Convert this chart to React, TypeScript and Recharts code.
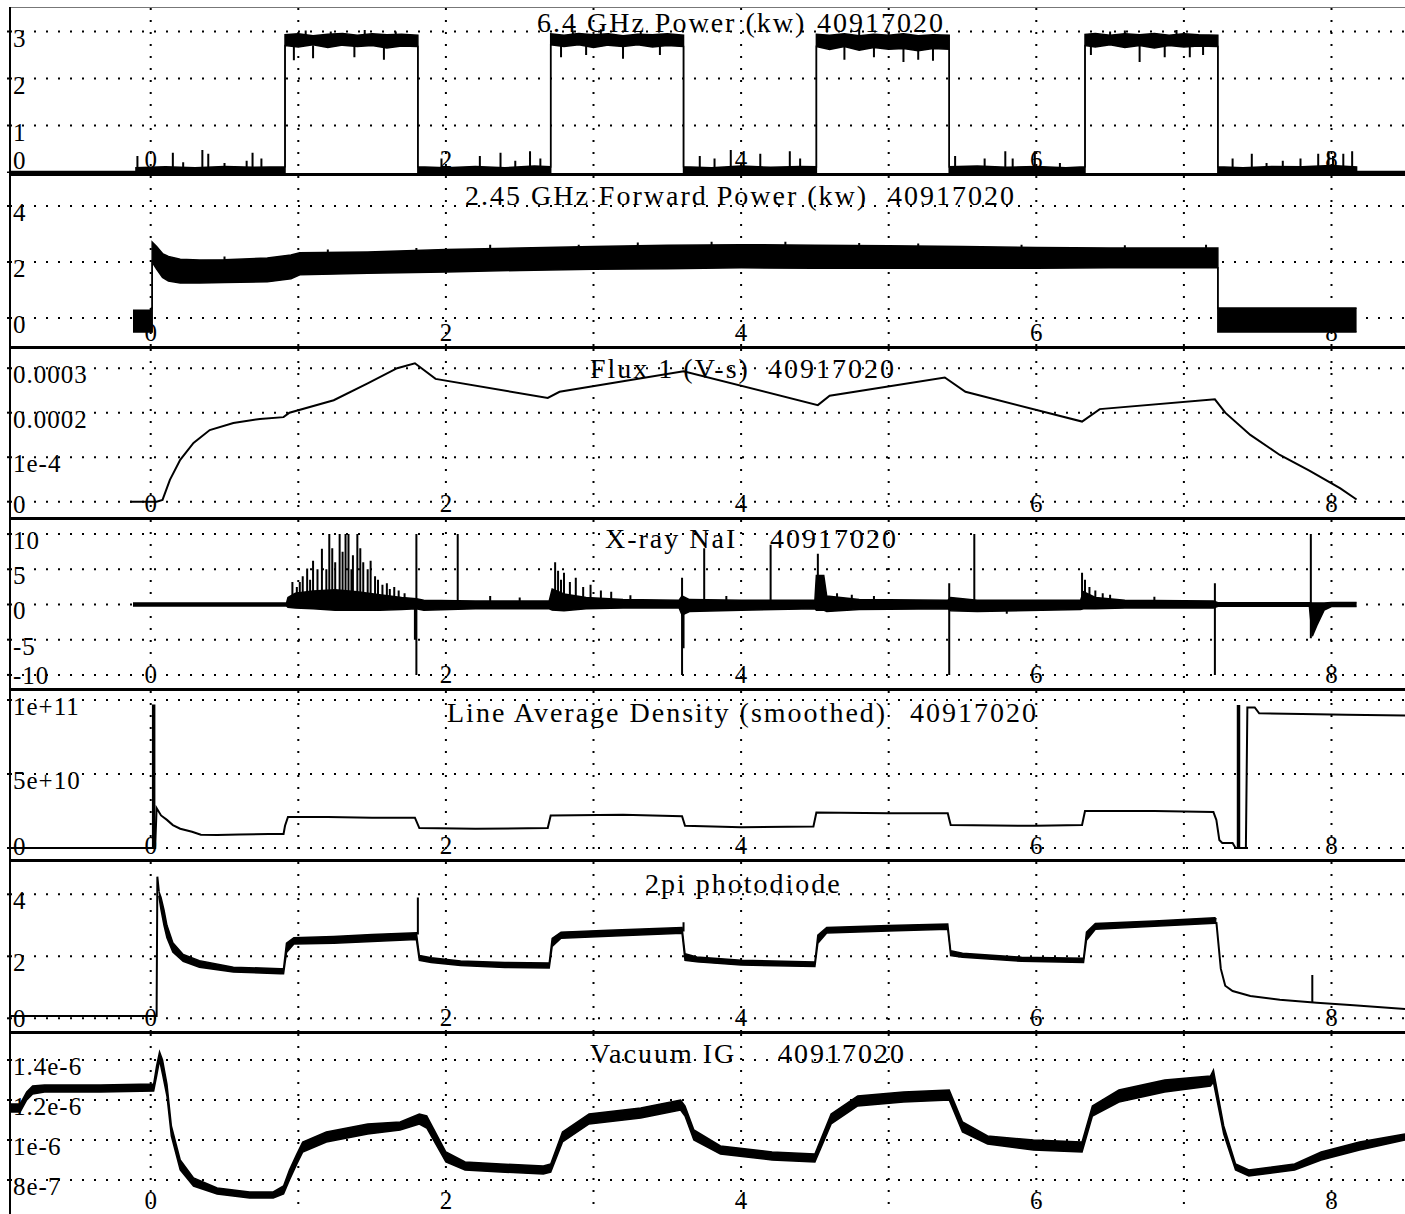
import React from "react";
import { Area, CartesianGrid, ComposedChart, Line, XAxis, YAxis } from "recharts";

const FONT = "'Liberation Serif', 'Times New Roman', serif";

// time axis (shared by all panels)
const timeDomain: [number, number] = [-0.9533, 8.498];
const timeTicks = [0, 1, 2, 3, 4, 5, 6, 7, 8];
const timeLabels = [0, 2, 4, 6, 8];

// 6.4 GHz power (kw): [time, low, high]
const rf64Band = [
  [-0.953, 0, 0.02], [-0.1, 0, 0.02],
  [-0.1, 0, 0.1], [0.1, 0, 0.12], [0.3, 0, 0.1], [0.5, 0, 0.13], [0.7, 0, 0.11], [0.91, 0, 0.12],
  [0.91, 2.7, 2.93], [1.0, 2.67, 2.95], [1.1, 2.72, 2.91], [1.2, 2.66, 2.94], [1.3, 2.71, 2.96], [1.4, 2.68, 2.92], [1.5, 2.7, 2.95], [1.6, 2.65, 2.93], [1.7, 2.69, 2.94], [1.81, 2.68, 2.92],
  [1.81, 0, 0.12], [2.0, 0, 0.1], [2.2, 0, 0.13], [2.4, 0, 0.1], [2.6, 0, 0.14], [2.71, 0, 0.12],
  [2.71, 2.72, 2.95], [2.8, 2.68, 2.92], [2.9, 2.72, 2.96], [3.0, 2.66, 2.93], [3.1, 2.71, 2.95], [3.2, 2.68, 2.91], [3.3, 2.72, 2.94], [3.4, 2.67, 2.93], [3.5, 2.7, 2.95], [3.61, 2.68, 2.92],
  [3.61, 0, 0.12], [3.8, 0, 0.1], [4.0, 0, 0.14], [4.2, 0, 0.11], [4.4, 0, 0.13], [4.51, 0, 0.12],
  [4.51, 2.68, 2.94], [4.6, 2.62, 2.92], [4.7, 2.68, 2.95], [4.8, 2.6, 2.91], [4.9, 2.66, 2.94], [5.0, 2.62, 2.92], [5.1, 2.64, 2.95], [5.2, 2.59, 2.91], [5.3, 2.64, 2.93], [5.41, 2.62, 2.92],
  [5.41, 0, 0.12], [5.6, 0, 0.14], [5.8, 0, 0.11], [6.0, 0, 0.13], [6.2, 0, 0.1], [6.33, 0, 0.12],
  [6.33, 2.7, 2.94], [6.4, 2.67, 2.96], [6.5, 2.72, 2.92], [6.6, 2.66, 2.95], [6.7, 2.7, 2.93], [6.8, 2.65, 2.96], [6.9, 2.7, 2.92], [7.0, 2.67, 2.95], [7.1, 2.69, 2.93], [7.23, 2.68, 2.92],
  [7.23, 0, 0.12], [7.4, 0, 0.1], [7.6, 0, 0.13], [7.8, 0, 0.12], [8.0, 0, 0.15], [8.17, 0, 0.12],
  [8.17, 0, 0.02], [8.498, 0, 0.02],
];
const rf64Spikes = [
  [-0.09, 0, 0.35], [0.15, 0, 0.42], [0.22, 0, 0.22], [0.35, 0, 0.48], [0.39, 0, 0.4], [0.5, 0, 0.2], [0.65, 0, 0.25], [0.69, 0, 0.42], [0.75, 0, 0.3],
  [0.97, 2.39, 2.7], [1.05, 2.9, 3.02], [1.1, 2.43, 2.7], [1.22, 2.9, 3.0], [1.38, 2.45, 2.7], [1.45, 2.9, 3.03], [1.58, 2.4, 2.7], [1.66, 2.9, 3.0],
  [1.97, 0, 0.3], [2.23, 0, 0.35], [2.37, 0, 0.42], [2.47, 0, 0.25], [2.57, 0, 0.45], [2.64, 0, 0.3],
  [2.78, 2.45, 2.7], [2.86, 2.9, 3.02], [2.95, 2.5, 2.7], [3.05, 2.9, 3.05], [3.2, 2.42, 2.7], [3.32, 2.9, 3.0], [3.45, 2.5, 2.7],
  [3.72, 0, 0.35], [3.82, 0, 0.3], [3.93, 0, 0.48], [4.13, 0, 0.4], [4.33, 0, 0.45], [4.4, 0, 0.3],
  [4.7, 2.4, 2.7], [4.8, 2.9, 3.05], [4.9, 2.45, 2.7], [5.0, 2.9, 3.0], [5.1, 2.35, 2.7], [5.2, 2.4, 2.7], [5.3, 2.38, 2.7],
  [5.45, 0, 0.35], [5.65, 0, 0.3], [5.79, 0, 0.45], [5.84, 0, 0.3], [5.99, 0, 0.45], [6.16, 0, 0.2],
  [6.37, 2.5, 2.7], [6.5, 2.9, 3.0], [6.6, 2.9, 3.02], [6.7, 2.35, 2.7], [6.87, 2.45, 2.7], [6.95, 2.9, 3.03], [7.04, 2.45, 2.7], [7.13, 2.5, 2.7],
  [7.33, 0, 0.3], [7.46, 0, 0.4], [7.56, 0, 0.2], [7.67, 0, 0.25], [7.79, 0, 0.3], [7.91, 0, 0.4], [7.98, 0, 0.45], [8.01, 0, 0.35], [8.08, 0, 0.4], [8.14, 0, 0.45],
];

// 2.45 GHz forward power (kw): [time, low, high]
const fwdBand = [
  [-0.12, -0.5, 0.28], [0.0, -0.5, 0.28], [0.005, -0.5, 0.36], [0.01, -0.5, 0.36],
  [0.01, 2.0, 2.71], [0.04, 1.75, 2.55], [0.08, 1.45, 2.3], [0.12, 1.32, 2.2], [0.2, 1.25, 2.1], [0.33, 1.25, 2.07], [0.5, 1.27, 2.08], [0.79, 1.29, 2.14], [0.95, 1.4, 2.25], [1.01, 1.54, 2.33], [1.47, 1.6, 2.36],
  [2.0, 1.64, 2.45], [2.5, 1.7, 2.5], [3.0, 1.74, 2.55], [3.5, 1.76, 2.6], [4.0, 1.79, 2.62], [4.5, 1.78, 2.6], [5.0, 1.78, 2.58], [5.5, 1.78, 2.55], [6.0, 1.78, 2.52], [6.5, 1.79, 2.5], [7.0, 1.79, 2.5], [7.23, 1.79, 2.5],
  [7.23, -0.5, 0.36], [8.17, -0.5, 0.36],
];
const fwdSpikes = [
  [0.5, 1.9, 2.2], [1.2, 2.2, 2.45], [1.8, 2.2, 2.5], [2.3, 2.4, 2.62], [2.9, 2.4, 2.62], [3.3, 2.5, 2.7], [3.8, 2.5, 2.72], [4.3, 2.5, 2.72],
  [4.8, 2.5, 2.68], [5.2, 2.5, 2.66], [5.9, 2.4, 2.62], [6.6, 2.4, 2.6], [7.15, 2.4, 2.62],
];

// Flux 1 (V-s): [time, value]
const fluxLine = [
  [-0.14, 0], [0.04, 0], [0.08, 0.000004], [0.13, 0.000049], [0.2, 0.000094], [0.29, 0.000132], [0.4, 0.000161], [0.56, 0.000177], [0.74, 0.000186], [0.9, 0.00019],
  [0.94, 0.0002], [1.24, 0.000228], [1.47, 0.000266], [1.67, 0.0003], [1.79, 0.000311], [1.93, 0.000276], [2.69, 0.000233], [2.77, 0.000247], [3.61, 0.000293],
  [4.52, 0.000217], [4.6, 0.000238], [5.38, 0.000279], [5.52, 0.000247], [6.31, 0.00018], [6.43, 0.000208], [7.21, 0.00023],
  [7.28, 0.0002], [7.45, 0.00015], [7.65, 0.000105], [7.85, 0.00007], [8.06, 0.00003], [8.17, 0.000005],
];

// X-ray NaI: [time, low, high]
const xrayBand = [
  [-0.12, -0.2, 0.2], [0.92, -0.2, 0.2], [0.93, -0.4, 1.0], [0.98, -0.5, 1.6], [1.1, -0.6, 1.9], [1.25, -0.8, 2.1], [1.4, -0.8, 1.8], [1.55, -0.8, 1.4], [1.7, -0.7, 1.0], [1.8, -0.6, 0.8],
  [1.85, -0.8, 0.6], [2.2, -0.6, 0.5], [2.7, -0.6, 0.5], [2.72, -0.8, 2.2], [2.8, -0.9, 1.5], [2.95, -0.6, 1.0], [3.2, -0.5, 0.7], [3.58, -0.5, 0.6], [3.6, -1.5, 1.2], [3.65, -1.0, 0.7],
  [4.0, -0.8, 0.6], [4.5, -0.6, 0.6], [4.51, -0.8, 4.1], [4.56, -0.8, 4.1], [4.58, -1.0, 1.2], [4.8, -0.7, 0.7], [5.4, -0.6, 0.6], [5.42, -0.9, 1.0], [5.6, -1.0, 0.6], [6.3, -0.7, 0.6],
  [6.32, -0.6, 1.8], [6.4, -0.6, 1.0], [6.6, -0.5, 0.6], [7.2, -0.5, 0.5], [7.23, -0.25, 0.25], [7.85, -0.25, 0.25], [7.87, -4.5, 0.2], [7.9, -3.0, 0.2], [7.95, -0.8, 0.2], [8.0, -0.3, 0.3], [8.17, -0.3, 0.3],
];
const xraySpikes = [
  [0.96, 0, 3.2], [0.99, 0, 2.5], [1.01, 0, 3.2], [1.03, 0, 4], [1.06, 0, 5.1], [1.08, 0, 3.5], [1.1, 0, 6.2], [1.13, 0, 5], [1.16, 0, 7.9], [1.19, 0, 5], [1.21, 0, 10], [1.23, 0, 8],
  [1.25, 0, 6], [1.28, 0, 10], [1.3, 0, 7.5], [1.32, 0, 10], [1.34, 0, 10], [1.36, 0, 5], [1.37, 0, 7], [1.4, 0, 10], [1.42, 0, 8], [1.44, 0, 6], [1.47, 0, 5], [1.49, 0, 6.2],
  [1.52, 0, 4], [1.54, 0, 3.5], [1.57, 0, 2.8], [1.6, 0, 3], [1.62, 0, 2.2], [1.65, 0, 2.5], [1.68, 0, 2], [1.72, 0, 1.6],
  [1.79, -5, 0], [1.8, -10, 10], [2.08, 0, 10], [2.3, 0, 1.2], [2.5, 0, 1.0],
  [2.74, 0, 6], [2.76, 0, 4.8], [2.78, 0, 3.5], [2.8, 0, 4.5], [2.84, 0, 3.2], [2.88, 0, 3.8], [2.93, 0, 2.5], [2.98, 0, 2.8], [3.05, 0, 2.0], [3.12, 0, 1.8], [3.25, 0, 1.3],
  [3.6, -10, 3.8], [3.61, -6.2, 0], [3.75, 0, 8], [3.9, 0, 1.2], [4.2, 0, 8.5], [4.52, 0, 7.2], [4.65, 0, 1.6], [4.75, 0, 1.4], [4.9, 0, 1.2],
  [5.41, -10, 3], [5.58, 0, 10], [5.8, -1.3, 0], [6.31, 0, 4.5], [6.33, 0, 3.5], [6.36, 0, 2.5], [6.4, 0, 2], [6.45, 0, 1.6], [6.5, 0, 1.4], [6.8, 0, 1.1],
  [7.21, -10, 3], [7.86, -4.8, 10],
];

// Line average density (smoothed): [time, value]
const densityLine = [
  [-0.953, 0], [0.03, 0], [0.04, 2.7e10], [0.07, 2.2e10], [0.11, 1.9e10], [0.15, 1.55e10], [0.2, 1.3e10], [0.28, 1.1e10], [0.34, 0.9e10], [0.45, 0.88e10], [0.6, 0.92e10], [0.8, 0.95e10], [0.9, 0.95e10],
  [0.91, 1.5e10], [0.93, 2.1e10], [1.2, 2.1e10], [1.5, 2.05e10], [1.79, 2.05e10], [1.82, 1.35e10], [2.2, 1.3e10], [2.69, 1.35e10], [2.71, 2.2e10], [3.2, 2.25e10], [3.6, 2.15e10],
  [3.62, 1.5e10], [4.0, 1.4e10], [4.49, 1.45e10], [4.51, 2.4e10], [5.0, 2.35e10], [5.4, 2.35e10], [5.42, 1.55e10], [6.0, 1.5e10], [6.31, 1.55e10], [6.33, 2.5e10], [6.8, 2.5e10], [7.2, 2.43e10],
  [7.22, 1.9e10], [7.24, 0.54e10], [7.26, 0.34e10], [7.33, 0.34e10], [7.35, 0], [7.42, 0], [7.43, 9.5e10], [7.48, 9.5e10], [7.51, 9.1e10], [7.8, 9.05e10], [8.1, 9.0e10], [8.498, 8.95e10],
];
const densitySpikes = [
  [0.015, 0, 9.7e10], [0.025, 0, 9.7e10], [7.365, 0, 9.66e10], [7.375, 0, 9.66e10],
];

// 2pi photodiode
const diodeStart = [[-0.953, 0.07], [0.04, 0.07], [0.045, 4.57], [0.055, 4.1]];
const diodeBand = [
  [0.055, 3.95, 4.1], [0.07, 3.5, 3.9], [0.09, 3.0, 3.5], [0.11, 2.6, 3.0], [0.15, 2.14, 2.44], [0.22, 1.84, 2.06], [0.33, 1.65, 1.86], [0.56, 1.49, 1.65], [0.88, 1.44, 1.6], [0.9, 1.44, 1.6],
  [0.92, 2.12, 2.42], [0.97, 2.4, 2.6], [1.24, 2.42, 2.64], [1.5, 2.48, 2.7], [1.8, 2.54, 2.76],
  [1.82, 1.87, 2.03], [1.9, 1.8, 1.95], [2.1, 1.7, 1.85], [2.4, 1.64, 1.8], [2.7, 1.62, 1.78],
  [2.72, 2.32, 2.58], [2.78, 2.58, 2.78], [3.1, 2.65, 2.84], [3.6, 2.74, 2.93],
  [3.62, 1.87, 2.08], [3.7, 1.82, 1.98], [4.0, 1.72, 1.87], [4.5, 1.67, 1.82],
  [4.52, 2.42, 2.68], [4.58, 2.75, 2.93], [5.0, 2.82, 2.99], [5.4, 2.87, 3.04],
  [5.42, 2.02, 2.18], [5.5, 1.97, 2.1], [5.9, 1.84, 1.97], [6.32, 1.8, 1.94],
  [6.34, 2.52, 2.78], [6.4, 2.87, 3.06], [6.8, 2.97, 3.14], [7.21, 3.07, 3.24], [7.22, 3.07, 3.2],
];
const diodeTail = [[7.22, 3.1], [7.25, 1.6], [7.28, 1.05], [7.33, 0.88], [7.45, 0.72], [7.65, 0.6], [7.9, 0.5], [8.15, 0.42], [8.498, 0.3]];
const diodeSpikes = [[1.81, 2.7, 3.9], [3.61, 2.8, 3.1], [7.87, 0.5, 1.4]];

// Vacuum IG: [time, low, high]
const vacuumBand = [
  [-0.953, 1.14e-6, 1.18e-6], [-0.885, 1.14e-6, 1.18e-6], [-0.84, 1.2e-6, 1.24e-6], [-0.8, 1.23e-6, 1.27e-6], [-0.72, 1.24e-6, 1.275e-6], [-0.34, 1.24e-6, 1.275e-6], [0.02, 1.245e-6, 1.28e-6],
  [0.04, 1.32e-6, 1.37e-6], [0.06, 1.4e-6, 1.44e-6], [0.08, 1.33e-6, 1.4e-6], [0.11, 1.22e-6, 1.28e-6], [0.14, 1.02e-6, 1.07e-6], [0.2, 0.85e-6, 0.9e-6], [0.29, 0.77e-6, 0.81e-6],
  [0.45, 0.73e-6, 0.76e-6], [0.67, 0.71e-6, 0.74e-6], [0.83, 0.71e-6, 0.74e-6], [0.9, 0.73e-6, 0.77e-6], [0.94, 0.8e-6, 0.85e-6], [0.99, 0.88e-6, 0.93e-6], [1.03, 0.94e-6, 0.99e-6],
  [1.19, 0.99e-6, 1.04e-6], [1.47, 1.03e-6, 1.08e-6], [1.69, 1.05e-6, 1.09e-6], [1.82, 1.08e-6, 1.13e-6], [1.87, 1.06e-6, 1.12e-6], [2.0, 0.89e-6, 0.94e-6], [2.13, 0.85e-6, 0.89e-6],
  [2.37, 0.84e-6, 0.88e-6], [2.66, 0.83e-6, 0.87e-6], [2.71, 0.84e-6, 0.88e-6], [2.79, 0.99e-6, 1.04e-6], [2.97, 1.08e-6, 1.13e-6], [3.32, 1.11e-6, 1.16e-6], [3.59, 1.15e-6, 1.2e-6],
  [3.62, 1.12e-6, 1.17e-6], [3.68, 1.0e-6, 1.05e-6], [3.86, 0.93e-6, 0.97e-6], [4.21, 0.9e-6, 0.94e-6], [4.5, 0.89e-6, 0.93e-6], [4.61, 1.08e-6, 1.13e-6], [4.79, 1.17e-6, 1.22e-6],
  [5.1, 1.19e-6, 1.24e-6], [5.41, 1.2e-6, 1.25e-6], [5.5, 1.04e-6, 1.09e-6], [5.67, 0.98e-6, 1.02e-6], [5.98, 0.95e-6, 1.0e-6], [6.31, 0.94e-6, 0.99e-6], [6.38, 1.12e-6, 1.17e-6],
  [6.56, 1.19e-6, 1.25e-6], [6.87, 1.24e-6, 1.3e-6], [7.18, 1.27e-6, 1.32e-6], [7.2, 1.29e-6, 1.35e-6], [7.27, 1.03e-6, 1.07e-6], [7.35, 0.85e-6, 0.88e-6], [7.44, 0.82e-6, 0.85e-6],
  [7.75, 0.85e-6, 0.88e-6], [7.93, 0.9e-6, 0.94e-6], [8.19, 0.95e-6, 0.99e-6], [8.498, 1.0e-6, 1.03e-6],
];

// y ticks and their labels, per panel
const rf64Ticks = [0, 1, 2, 3];
const rf64Labels = ["0", "1", "2", "3"];
const fwdTicks = [0, 2, 4];
const fwdLabels = ["0", "2", "4"];
const fluxTicks = [0, 0.0001, 0.0002, 0.0003];
const fluxLabels = ["0", "1e-4", "0.0002", "0.0003"];
const xrayTicks = [-10, -5, 0, 5, 10];
const xrayLabels = ["-10", "-5", "0", "5", "10"];
const densityTicks = [0, 5e10, 1e11];
const densityLabels = ["0", "5e+10", "1e+11"];
const diodeTicks = [0, 2, 4];
const diodeLabels = ["0", "2", "4"];
const vacuumTicks = [8e-7, 1e-6, 1.2e-6, 1.4e-6];
const vacuumLabels = ["8e-7", "1e-6", "1.2e-6", "1.4e-6"];

const titles: [string, number, number][] = [
  ["6.4 GHz Power (kw)", 537, 32], ["40917020", 817, 32],
  ["2.45 GHz Forward Power (kw)", 465, 205], ["40917020", 888, 205],
  ["Flux 1 (V-s)", 590, 378], ["40917020", 768, 378],
  ["X-ray NaI", 605, 548], ["40917020", 770, 548],
  ["Line Average Density (smoothed)", 447, 722], ["40917020", 910, 722],
  ["2pi photodiode", 645, 893],
  ["Vacuum IG", 590, 1063], ["40917020", 778, 1063],
];

const band = (rows: number[][]) => rows.map(([t, lo, hi]) => ({ t, v: [lo, hi] }));
const curve = (rows: number[][]) => rows.map(([t, v]) => ({ t, v }));
const spikes = (rows: number[][]) =>
  rows.flatMap(([t, lo, hi]) => [{ t, v: lo }, { t, v: hi }, { t, v: null }]);

const bandArea = (rows: number[][], key: string) => (
  <Area key={key} data={band(rows)} dataKey="v" type="linear" stroke="#000" strokeWidth={1.5}
    fill="#000" fillOpacity={1} dot={false} activeDot={false} isAnimationActive={false} connectNulls />
);
const curveLine = (rows: number[][], key: string, width = 2) => (
  <Line key={key} data={curve(rows)} dataKey="v" type="linear" stroke="#000" strokeWidth={width}
    dot={false} activeDot={false} isAnimationActive={false} />
);
const spikeLine = (rows: number[][], key: string) => (
  <Line key={key} data={spikes(rows)} dataKey="v" type="linear" stroke="#000" strokeWidth={2}
    dot={false} activeDot={false} isAnimationActive={false} connectNulls={false} />
);

type PanelProps = {
  top: number;
  height: number;
  domain: [number, number];
  ticks: number[];
  labels: string[];
  grid: number[];
  children: React.ReactNode;
};

function Panel({ top, height, domain, ticks, labels, grid, children }: PanelProps) {
  const yTick = (p: any) => {
    const i = ticks.indexOf(p.payload.value);
    const base = Math.min(p.y + 15, height - 4);
    return (
      <g>
        <line x1={7} x2={11} y1={p.y} y2={p.y} stroke="#000" strokeWidth={2} />
        <text x={13} y={base} fontSize={25} fontFamily={FONT} letterSpacing={1} fill="#000">
          {labels[i]}
        </text>
      </g>
    );
  };
  const xTick = (p: any) =>
    timeLabels.includes(p.payload.value) ? (
      <text x={p.x} y={height - 5} textAnchor="middle" fontSize={25} fontFamily={FONT} fill="#000">
        {p.payload.value}
      </text>
    ) : (
      <g />
    );
  return (
    <div style={{ position: "absolute", left: 0, top, width: 1405, height }}>
      <ComposedChart width={1405} height={height} margin={{ top: 0, right: 0, bottom: 0, left: 10 }}>
        <CartesianGrid stroke="#000" strokeWidth={2} strokeDasharray="2 10" horizontalValues={grid} verticalValues={timeTicks} />
        <XAxis type="number" dataKey="t" domain={timeDomain} allowDataOverflow ticks={timeTicks} interval={0}
          mirror axisLine={false} tickLine={false} tick={xTick} />
        <YAxis type="number" domain={domain} allowDataOverflow ticks={ticks} interval={0}
          mirror axisLine={false} tickLine={false} tick={yTick} />
        {children}
      </ComposedChart>
    </div>
  );
}

export default function App() {
  const separators = [173, 346, 517, 688, 859, 1031];
  return (
    <div style={{ position: "absolute", left: 0, top: 0, width: 1405, height: 1214, background: "#fff", overflow: "hidden" }}>
      <Panel top={8} height={165} domain={[-0.0106, 3.5]} ticks={rf64Ticks} labels={rf64Labels} grid={[1, 2, 3]}>
        {[bandArea(rf64Band, "a"), spikeLine(rf64Spikes, "s")]}
      </Panel>
      <Panel top={176} height={170} domain={[-1.0, 5.071]} ticks={fwdTicks} labels={fwdLabels} grid={fwdTicks}>
        {[bandArea(fwdBand, "a"), spikeLine(fwdSpikes, "s")]}
      </Panel>
      <Panel top={349} height={168} domain={[-0.0000344, 0.0003431]} ticks={fluxTicks} labels={fluxLabels} grid={fluxTicks}>
        {[curveLine(fluxLine, "l")]}
      </Panel>
      <Panel top={520} height={168} domain={[-11.86, 12.0]} ticks={xrayTicks} labels={xrayLabels} grid={xrayTicks}>
        {[bandArea(xrayBand, "a"), spikeLine(xraySpikes, "s")]}
      </Panel>
      <Panel top={691} height={168} domain={[-0.743e10, 10.608e10]} ticks={densityTicks} labels={densityLabels} grid={densityTicks}>
        {[curveLine(densityLine, "l"), spikeLine(densitySpikes, "s")]}
      </Panel>
      <Panel top={862} height={169} domain={[-0.41, 5.042]} ticks={diodeTicks} labels={diodeLabels} grid={diodeTicks}>
        {[curveLine(diodeStart, "l1"), bandArea(diodeBand, "a"), curveLine(diodeTail, "l2"), spikeLine(diodeSpikes, "s")]}
      </Panel>
      <Panel top={1034} height={180} domain={[0.63e-6, 1.53e-6]} ticks={vacuumTicks} labels={vacuumLabels} grid={vacuumTicks}>
        {[bandArea(vacuumBand, "a")]}
      </Panel>

      <div style={{ position: "absolute", left: 10, top: 7, width: 1395, height: 1, background: "#777" }} />
      {separators.map((y) => (
        <div key={y} style={{ position: "absolute", left: 9, top: y, width: 1396, height: 3, background: "#000" }} />
      ))}
      <div style={{ position: "absolute", left: 9, top: 7, width: 2, height: 1207, background: "#000" }} />

      <svg width={1405} height={1214} style={{ position: "absolute", left: 0, top: 0, pointerEvents: "none" }}>
        {titles.map(([text, x, y]) => (
          <text key={text + y + x} x={x} y={y} fontSize={28} fontFamily={FONT} letterSpacing={2} fill="#000">
            {text}
          </text>
        ))}
      </svg>
    </div>
  );
}
